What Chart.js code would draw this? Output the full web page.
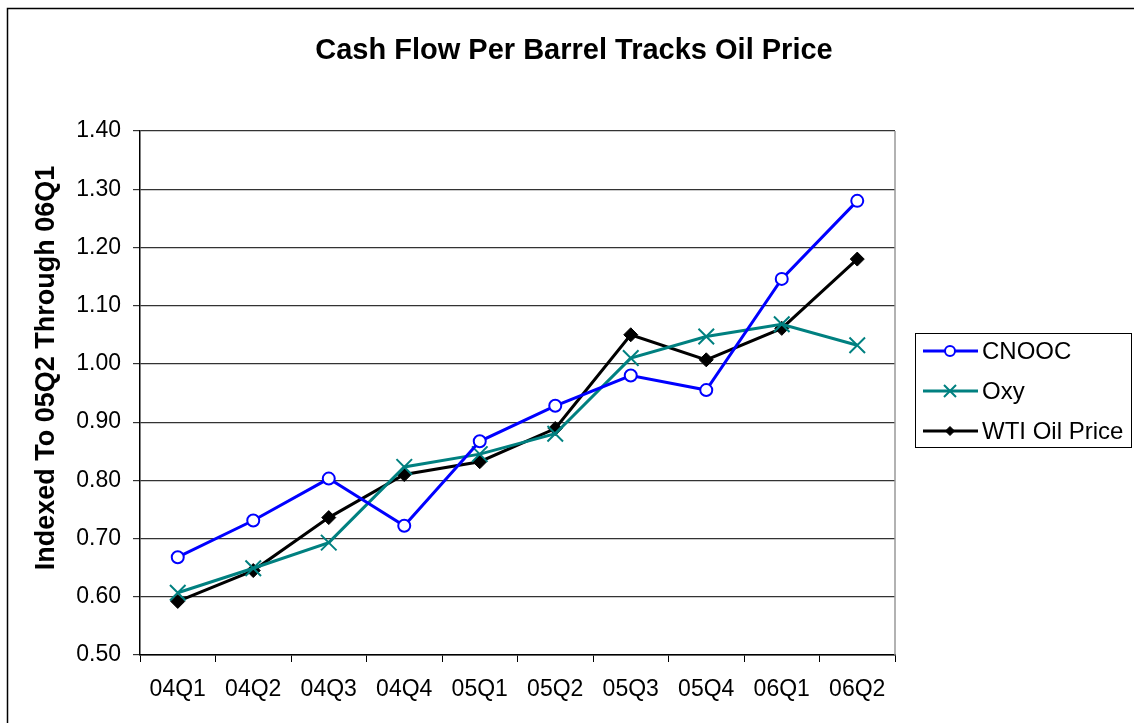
<!DOCTYPE html>
<html>
<head>
<meta charset="utf-8">
<script src="https://cdn.jsdelivr.net/npm/chart.js@4/dist/chart.umd.min.js"></script>
<style>
  html, body { margin: 0; padding: 0; background: #fff; }
  #wrap { width: 1134px; height: 723px; position: relative; }
</style>
</head>
<body>
<div id="wrap"><canvas id="oilChart"></canvas></div>
<script>
const quarters = ['04Q1', '04Q2', '04Q3', '04Q4', '05Q1', '05Q2', '05Q3', '05Q4', '06Q1', '06Q2'];
const cnooc = [0.668, 0.731, 0.803, 0.722, 0.867, 0.928, 0.980, 0.955, 1.146, 1.280];
const oxy = [0.607, 0.649, 0.693, 0.823, 0.845, 0.880, 1.010, 1.047, 1.068, 1.032];
const wti = [0.592, 0.645, 0.736, 0.810, 0.832, 0.889, 1.050, 1.007, 1.061, 1.180];
const yMin = 0.5, yMax = 1.4, yStep = 0.1;

const chartTitle = 'Cash Flow Per Barrel Tracks Oil Price';
const yTitle = 'Indexed To 05Q2 Through 06Q1';
const font = 'Arial, "Liberation Sans", sans-serif';
const legendRadius = [5, 8.5, 4.5];

// titles, frame, right border of the plot and the boxed legend
const extras = {
  id: 'extras',
  afterDraw(chart) {
    const ctx = chart.ctx;
    const a = chart.chartArea;
    ctx.save();
    ctx.strokeStyle = '#000';
    ctx.lineWidth = 1.5;
    ctx.strokeRect(7.5, 8.5, 1200, 800);

    ctx.strokeStyle = '#999';
    ctx.lineWidth = 1.5;
    ctx.beginPath();
    ctx.moveTo(a.right, a.top);
    ctx.lineTo(a.right, a.bottom);
    ctx.stroke();

    ctx.fillStyle = '#000';
    ctx.textAlign = 'center';
    ctx.textBaseline = 'middle';
    ctx.font = 'bold 29px ' + font;
    ctx.fillText(chartTitle, 574, 51);

    ctx.save();
    ctx.translate(47, 368);
    ctx.rotate(-Math.PI / 2);
    ctx.font = 'bold 27px ' + font;
    ctx.fillText(yTitle, 0, 0);
    ctx.restore();

    // legend
    const bx = 915.5, by = 333.5, bw = 216, bh = 114;
    ctx.strokeStyle = '#000';
    ctx.lineWidth = 1;
    ctx.strokeRect(bx, by, bw, bh);
    ctx.font = '24px ' + font;
    ctx.textAlign = 'left';
    chart.data.datasets.forEach((ds, i) => {
      const y = 351 + i * 40;
      ctx.strokeStyle = ds.borderColor;
      ctx.lineWidth = ds.borderWidth;
      ctx.beginPath();
      ctx.moveTo(923, y);
      ctx.lineTo(978, y);
      ctx.stroke();
      ctx.fillStyle = ds.pointBackgroundColor;
      ctx.strokeStyle = ds.borderColor;
      ctx.lineWidth = ds.pointBorderWidth;
      Chart.helpers.drawPoint(ctx, {
        pointStyle: ds.pointStyle,
        radius: legendRadius[i],
        rotation: 0,
        borderWidth: ds.pointBorderWidth
      }, 950, y);
      ctx.fillStyle = '#000';
      ctx.fillText(ds.label, 982, y + 1);
    });
    ctx.restore();
  }
};

new Chart(document.getElementById('oilChart'), {
  type: 'line',
  data: {
    labels: quarters,
    datasets: [
      {
        label: 'CNOOC',
        data: cnooc,
        borderColor: '#0000ff',
        borderWidth: 3,
        pointStyle: 'circle',
        pointRadius: 6,
        pointBorderWidth: 2,
        pointBackgroundColor: '#ffffff',
        pointBorderColor: '#0000ff'
      },
      {
        label: 'Oxy',
        data: oxy,
        borderColor: '#008080',
        borderWidth: 3,
        pointStyle: 'crossRot',
        pointRadius: 11,
        pointBorderWidth: 2,
        pointBackgroundColor: '#008080',
        pointBorderColor: '#008080'
      },
      {
        label: 'WTI Oil Price',
        data: wti,
        borderColor: '#000000',
        borderWidth: 3,
        pointStyle: 'rectRot',
        pointRadius: 7,
        pointBorderWidth: 1,
        pointBackgroundColor: '#000000',
        pointBorderColor: '#000000'
      }
    ]
  },
  options: {
    responsive: true,
    maintainAspectRatio: false,
    animation: false,
    layout: { padding: { left: 10, right: 239, top: 131, bottom: 0 } },
    plugins: {
      legend: { display: false },
      tooltip: { enabled: false },
      title: { display: false }
    },
    scales: {
      x: {
        offset: true,
        grid: { offset: true, drawOnChartArea: false, drawTicks: true, tickLength: 7, color: '#000' },
        border: { display: true, color: '#000', width: 1.5 },
        ticks: { color: '#000', font: { family: font, size: 23 }, padding: 14, maxRotation: 0 },
        afterFit(s) { s.height = 68; }
      },
      y: {
        min: yMin,
        max: yMax,
        grid: { color: '#333', lineWidth: 1.2, tickLength: 7 },
        border: { display: true, color: '#000', width: 1.5 },
        ticks: {
          stepSize: yStep,
          color: '#000',
          font: { family: font, size: 23 },
          padding: 12,
          callback: v => v.toFixed(2)
        },
        afterFit(s) { s.width = 130; }
      }
    }
  },
  plugins: [extras]
});
</script>
</body>
</html>
